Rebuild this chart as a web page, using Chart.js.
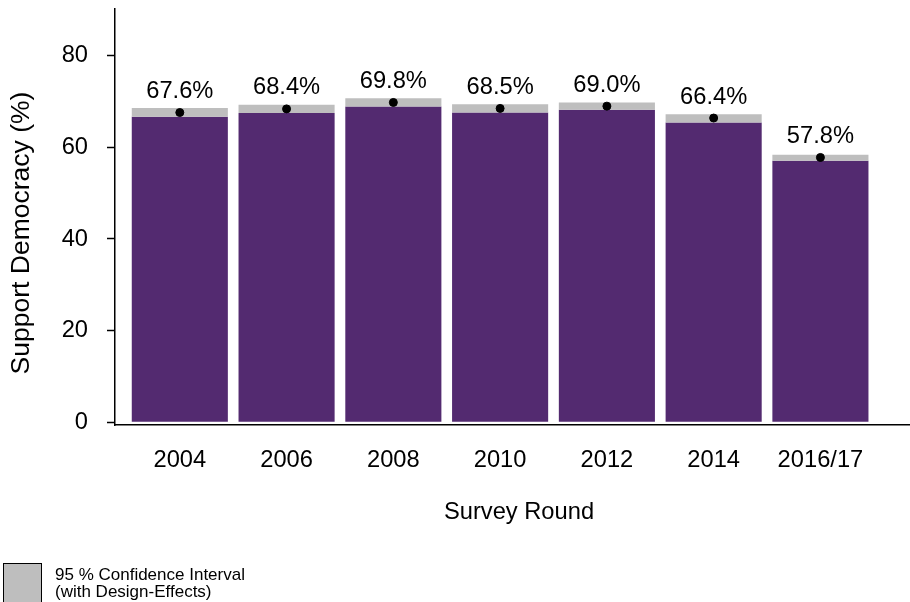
<!DOCTYPE html>
<html>
<head>
<meta charset="utf-8">
<script src="https://cdn.jsdelivr.net/npm/chart.js@4"></script>
<style>
  html, body { margin: 0; padding: 0; background: #fff; }
  #wrap { width: 910px; height: 602px; }
</style>
</head>
<body>
<div id="wrap"><canvas id="chart" width="910" height="602"></canvas></div>
<script>
const rounds = ['2004', '2006', '2008', '2010', '2012', '2014', '2016/17'];
const support = [67.6, 68.4, 69.8, 68.5, 69.0, 66.4, 57.8];
const ciLow = [66.7, 67.5, 68.9, 67.6, 68.2, 65.4, 57.1];
const ciHigh = [68.6, 69.3, 70.7, 69.4, 69.8, 67.2, 58.4];
const yTicks = [0, 20, 40, 60, 80];

const FONT = '"Liberation Sans", Arial, sans-serif';
const PURPLE = '#532a70';
const GREY = '#bebebe';
const SIZE = 23.7;

const pos = rounds.map((r, i) => i + 1);

// value labels, axis titles and the CI legend box
const extras = {
  id: 'extras',
  afterDatasetsDraw(chart) {
    const ctx = chart.ctx;
    const pts = chart.getDatasetMeta(2).data;
    ctx.save();
    ctx.fillStyle = '#000';
    ctx.font = SIZE + 'px ' + FONT;
    ctx.textAlign = 'center';
    ctx.textBaseline = 'alphabetic';
    pts.forEach((p, i) => {
      ctx.fillText(support[i].toFixed(1) + '%', p.x, p.y - 14.5);
    });
    ctx.restore();
  },
  afterDraw(chart) {
    const ctx = chart.ctx;
    ctx.save();
    ctx.fillStyle = '#000';
    ctx.font = SIZE + 'px ' + FONT;
    ctx.textAlign = 'center';
    ctx.textBaseline = 'middle';
    ctx.fillText('Survey Round', 519, 512);
    ctx.font = '26.5px ' + FONT;
    ctx.translate(22, 233);
    ctx.rotate(-Math.PI / 2);
    ctx.fillText('Support Democracy (%)', 0, 0);
    ctx.restore();

    ctx.save();
    ctx.fillStyle = GREY;
    ctx.strokeStyle = '#000';
    ctx.lineWidth = 1;
    ctx.fillRect(3.5, 563.5, 38, 45);
    ctx.strokeRect(3.5, 563.5, 38, 45);
    ctx.fillStyle = '#000';
    ctx.font = '17px ' + FONT;
    ctx.textAlign = 'left';
    ctx.textBaseline = 'middle';
    ctx.fillText('95 % Confidence Interval', 55, 575);
    ctx.fillText('(with Design-Effects)', 55, 592);
    ctx.restore();
  }
};

new Chart(document.getElementById('chart'), {
  type: 'bar',
  data: {
    datasets: [
      {
        label: 'Support',
        data: pos.map((x, i) => ({ x: x, y: [0, ciLow[i]] })),
        backgroundColor: PURPLE,
        grouped: false,
        order: 2,
        barPercentage: 0.9,
        categoryPercentage: 1
      },
      {
        label: '95 % Confidence Interval',
        data: pos.map((x, i) => ({ x: x, y: [ciLow[i], ciHigh[i]] })),
        backgroundColor: GREY,
        grouped: false,
        order: 1,
        barPercentage: 0.9,
        categoryPercentage: 1
      },
      {
        type: 'scatter',
        label: 'Estimate',
        data: pos.map((x, i) => ({ x: x, y: support[i] })),
        backgroundColor: '#000',
        borderColor: '#000',
        order: 0,
        pointRadius: 4,
        pointHoverRadius: 4
      }
    ]
  },
  plugins: [extras],
  options: {
    responsive: false,
    animation: false,
    layout: { autoPadding: false, padding: { top: 9, left: 0, right: 0, bottom: 0 } },
    plugins: {
      legend: { display: false },
      tooltip: { enabled: false }
    },
    scales: {
      x: {
        type: 'linear',
        offset: false,
        min: 0.393,
        max: 7.839,
        afterFit: s => {
          s.height = 177;
          s.paddingLeft = 0;
          s.paddingRight = 0;
        },
        afterBuildTicks: s => { s.ticks = pos.map(v => ({ value: v })); },
        grid: { display: false },
        border: { display: true, color: '#000', width: 1.5 },
        ticks: {
          autoSkip: false,
          maxRotation: 0,
          padding: 13,
          color: '#000',
          font: { family: FONT, size: SIZE },
          callback: v => rounds[v - 1]
        }
      },
      y: {
        min: -0.6,
        max: 90.2,
        afterFit: s => {
          s.width = 115;
          s.paddingTop = 0;
          s.paddingBottom = 0;
        },
        afterBuildTicks: s => { s.ticks = yTicks.map(v => ({ value: v })); },
        grid: {
          display: true,
          drawOnChartArea: false,
          drawTicks: true,
          tickLength: 8,
          tickColor: '#000',
          tickWidth: 1.5
        },
        border: { display: true, color: '#000', width: 1.5 },
        ticks: {
          padding: 19,
          color: '#000',
          font: { family: FONT, size: SIZE }
        }
      }
    }
  }
});
</script>
</body>
</html>
